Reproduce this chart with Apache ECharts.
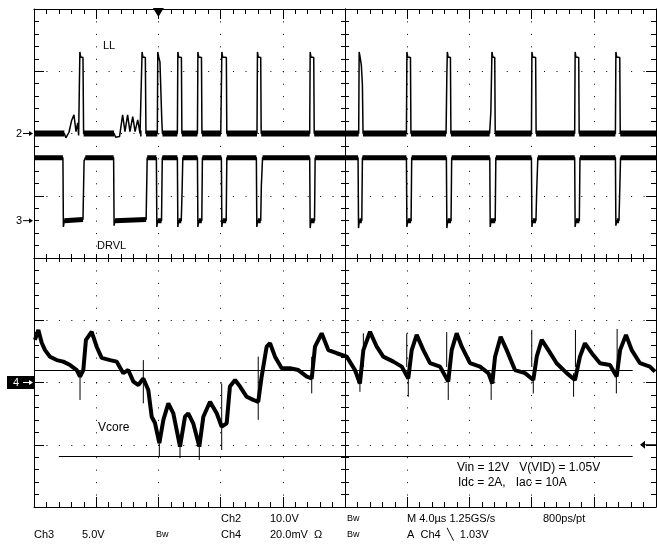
<!DOCTYPE html>
<html>
<head>
<meta charset="utf-8">
<script src="https://cdn.jsdelivr.net/npm/echarts@6/dist/echarts.min.js"></script>
<style>
  html, body { margin: 0; padding: 0; background: #fff; }
  #chart { width: 657px; height: 550px; }
</style>
</head>
<body>
<div id="chart"></div>
<script>
// time in us (M 4.0us/div), Ch2 LL in V, Ch3 DRVL in V, Ch4 Vcore in mV from its marker
const llTrace = [
  [0, 0], [1.95, 0], [2.05, -0.7], [2.25, 0.2], [2.42, 2.1], [2.57, 3.0], [2.70, 0.3], [2.81, 1.7], [2.87, -0.3], [2.92, 0],
  [2.95, 13.1], [3.0, 12.3], [3.15, 12.2], [3.19, 0],
  [5.15, 0], [5.25, -0.6], [5.5, -0.5], [5.7, 3.0], [5.85, 0.3], [6.02, 3.0], [6.17, 0.3], [6.35, 2.7], [6.5, 0.3], [6.67, 2.2], [6.82, 0],
  [6.92, 0], [6.95, 13.1], [7.0, 12.3], [7.16, 12.2], [7.2, 0],
  [7.93, 0], [7.96, 13.1], [8.02, 12.3], [8.10, 11.5], [8.22, 2], [8.26, 0],
  [9.22, 0], [9.25, 13.1], [9.30, 12.3], [9.48, 12.2], [9.51, 0],
  [10.51, 0], [10.54, 13.1], [10.59, 12.3], [10.77, 12.2], [10.80, 0],
  [12.01, 0], [12.08, 13.1], [12.13, 12.3], [12.37, 12.2], [12.40, 0],
  [14.34, 0], [14.37, 13.1], [14.42, 12.3], [14.58, 12.2], [14.61, 0],
  [17.73, 0], [17.76, 13.1], [17.81, 12.3], [17.99, 12.2], [18.02, 0],
  [20.88, 0], [20.91, 13.1], [20.97, 12.3], [21.05, 11], [21.12, 7.8], [21.16, 0],
  [23.95, 0], [23.98, 13.1], [24.03, 12.3], [24.21, 12.2], [24.24, 0],
  [26.50, 0], [26.55, 9.5], [26.58, 13.1], [26.63, 12.3], [26.78, 12.2], [26.81, 0],
  [29.30, 0], [29.38, 3.5], [29.45, 13.1], [29.50, 12.3], [29.63, 12.2], [29.66, 0],
  [31.99, 0], [32.02, 13.1], [32.07, 12.3], [32.26, 12.2], [32.29, 0],
  [34.77, 0], [34.80, 13.1], [34.85, 12.3], [35.03, 12.2], [35.06, 0],
  [37.39, 0], [37.42, 13.1], [37.47, 12.3], [37.67, 12.2], [37.70, 0],
  [40, 0]
];

const drvlTrace = [
  [0, 5.06], [1.86, 5.06], [1.89, -0.5], [1.95, 0], [3.15, 0.1], [3.22, 4.8], [3.30, 5.06],
  [5.12, 5.06], [5.15, -0.4], [5.20, 0], [7.21, 0.1], [7.28, 5.06],
  [7.87, 5.06], [7.90, -0.5], [7.95, 0], [8.20, 0], [8.25, 5.06],
  [9.22, 5.06], [9.25, -0.5], [9.30, 0], [9.47, 0], [9.52, 2.2], [9.57, 5.06],
  [10.51, 5.06], [10.54, -0.5], [10.59, 0], [10.79, 0], [10.83, 5.06],
  [12.05, 5.06], [12.08, -0.5], [12.13, 0], [12.36, 0], [12.40, 5.06],
  [14.30, 5.06], [14.33, -0.5], [14.38, 0], [14.58, 0], [14.62, 2.8], [14.70, 5.06],
  [17.73, 5.06], [17.76, -0.6], [17.81, 0], [18.04, 0], [18.08, 5.06],
  [20.84, 5.06], [20.87, -0.6], [20.92, 0], [21.08, 0], [21.12, 5.06],
  [23.95, 5.06], [23.98, -0.5], [24.03, 0], [24.25, 0], [24.29, 5.06],
  [26.52, 5.06], [26.55, -0.6], [26.60, 0], [26.82, 0], [26.86, 5.06],
  [29.31, 5.06], [29.34, -0.5], [29.39, 0], [29.66, 0], [29.70, 5.06],
  [31.99, 5.06], [32.02, -0.5], [32.07, 0], [32.28, 0], [32.33, 2.5], [32.40, 5.06],
  [34.77, 5.06], [34.80, -0.5], [34.85, 0], [35.07, 0], [35.11, 5.06],
  [37.39, 5.06], [37.42, -0.4], [37.47, 0], [37.62, 0], [37.67, 2.5], [37.72, 5.06],
  [40, 5.06]
];

const vcoreTrace = [
  [0.06, 13.7], [0.28, 16.9], [0.50, 12.7], [0.71, 10.4], [1.03, 8.3], [1.46, 7.2], [1.88, 6.7], [2.32, 5.6],
  [2.75, 4.0], [2.96, 1.9], [3.17, 4.0], [3.34, 13.7], [3.71, 16.3], [4.03, 11.5], [4.35, 7.9], [4.89, 7.2],
  [5.32, 6.7], [5.74, 3.0], [6.06, 4.0], [6.39, 0.3], [6.71, -0.8], [7.03, 1.3], [7.35, -2.4], [7.57, -11.0],
  [7.78, -13.0], [8.06, -19.5], [8.32, -12.0], [8.64, -6.7], [8.96, -9.9], [9.39, -20.6], [9.71, -11.0],
  [9.92, -9.9], [10.24, -13.1], [10.63, -20.6], [10.89, -11.0], [11.32, -6.2], [11.75, -9.9], [12.07, -14.2],
  [12.39, -13.1], [12.60, -1.3], [12.93, 0.8], [13.25, -1.3], [13.68, -4.6], [14.10, -5.6], [14.42, -6.2],
  [14.64, 1.9], [14.96, 11.5], [15.18, 12.6], [15.50, 8.3], [15.93, 4.6], [16.46, 4.6], [17.00, 4.0],
  [17.54, 1.9], [17.86, 1.3], [18.07, 11.5], [18.50, 15.8], [18.93, 10.4], [19.47, 9.4], [20.11, 8.3],
  [20.64, 4.0], [20.96, -0.3], [21.18, 10.4], [21.61, 16.3], [22.04, 11.5], [22.46, 8.3], [23.11, 6.7],
  [23.65, 5.1], [24.07, 1.3], [24.29, 10.4], [24.61, 15.3], [25.04, 10.4], [25.47, 6.2], [26.11, 5.1],
  [26.64, 0.3], [26.86, 10.4], [27.18, 15.8], [27.51, 11.5], [28.04, 6.2], [28.68, 5.1], [29.22, 3.0],
  [29.47, -0.3], [29.65, 8.3], [30.01, 14.7], [30.40, 10.4], [30.93, 4.0], [31.58, 3.0], [32.11, 0.8],
  [32.33, 8.3], [32.65, 13.7], [33.08, 10.4], [33.61, 6.2], [34.26, 3.0], [34.79, 0.8], [35.11, 8.3],
  [35.43, 12.6], [35.87, 9.4], [36.40, 6.2], [37.04, 5.6], [37.47, 1.9], [37.69, 10.4], [38.07, 15.3],
  [38.44, 10.4], [38.97, 6.2], [39.61, 5.1], [39.93, 3.5]
];

// switching spikes on Vcore: [t, low, high]
const vcoreSpikes = [
  [2.96, -5.6, 4.0], [7.03, -6.7, 7.2], [8.06, -23.8, -19.5], [9.39, -24.3, -18], [10.63, -24.9, -18],
  [12.07, -21.7, -0.3], [14.42, -12.0, 8.3], [17.86, -3.5, 8.3], [20.96, -3.0, 4], [21.18, 5, 15.8],
  [23.97, 5, 15.8], [24.07, -4.6, 3], [26.54, 5, 16.2], [26.64, -5.6, 3], [29.40, -5.6, 3],
  [32.01, 5, 16.9], [32.11, -3.5, 3], [34.70, -4.6, 3], [34.82, 5, 16.9], [37.45, -3.5, 3], [37.50, 5, 17.2]
];

// horizontal cursors on Ch4 (mV) and the time span they cover
const cursorLevels = [4.0, -23.8];
const cursorFrom = [0, 1.6];
const cursorTo = [38.5, 38.5];

const trigTime = 8;      // trigger position, us
const trigLevel = -20;   // trigger level on Ch4, mV

// 8 vertical divisions per channel, zero on the channel marker
const ch2Range = [-60, 20];
const ch3Range = [-23, 17];
const ch4Range = [-40, 120];

const black = '#000';
const font = '"Liberation Sans", Arial, sans-serif';

function gratAxis(extra) {
  return Object.assign({
    type: 'value',
    axisLabel: { show: false },
    axisLine: { onZero: false, lineStyle: { color: black, width: 1 } },
    axisTick: { inside: true, length: 10, lineStyle: { color: black } },
    minorTick: { show: true, splitNumber: 5, length: 5, lineStyle: { color: black } },
    splitLine: { show: false }
  }, extra);
}

// thick band on the flat levels (noise), thin line elsewhere
function band(points, level) {
  const out = [];
  let last = null;
  points.forEach(p => {
    const c = level(p[1]);
    if (c !== last && out.length) out.push([p[0], '-']);
    if (c) out.push(p);
    last = c;
  });
  return out;
}

const chart = echarts.init(document.getElementById('chart'));

const xBase = { min: 0, max: 40, interval: 4 };
const yBase = { min: 0, max: 8, interval: 1 };

chart.setOption({
  animation: false,
  backgroundColor: '#fff',
  grid: { left: 34, right: 1, top: 9, bottom: 43 },
  xAxis: [
    gratAxis(Object.assign({ position: 'bottom',
      splitLine: { show: true, lineStyle: { color: black, width: 1, type: [1, 11.45] } } }, xBase)),
    gratAxis(Object.assign({ position: 'top' }, xBase)),
    gratAxis(Object.assign({ position: 'bottom', offset: -249,
      axisTick: { inside: true, length: 4, lineStyle: { color: black } },
      minorTick: { show: true, splitNumber: 5, length: 4, lineStyle: { color: black } } }, xBase)),
    gratAxis(Object.assign({ position: 'bottom', offset: -249,
      axisTick: { inside: false, length: 4, lineStyle: { color: black } },
      minorTick: { show: true, splitNumber: 5, length: 4, lineStyle: { color: black } } }, xBase))
  ],
  yAxis: [
    gratAxis(Object.assign({ position: 'left',
      splitLine: { show: true, lineStyle: { color: black, width: 1, type: [1, 11.44] } } }, yBase)),
    gratAxis(Object.assign({ position: 'right' }, yBase)),
    gratAxis(Object.assign({ position: 'left', offset: -311,
      axisTick: { inside: true, length: 4, lineStyle: { color: black } },
      minorTick: { show: true, splitNumber: 5, length: 4, lineStyle: { color: black } } }, yBase)),
    gratAxis(Object.assign({ position: 'left', offset: -311,
      axisTick: { inside: false, length: 4, lineStyle: { color: black } },
      minorTick: { show: true, splitNumber: 5, length: 4, lineStyle: { color: black } } }, yBase)),
    { type: 'value', show: false, min: ch2Range[0], max: ch2Range[1] },
    { type: 'value', show: false, min: ch3Range[0], max: ch3Range[1] },
    { type: 'value', show: false, min: ch4Range[0], max: ch4Range[1] }
  ],
  series: [
    {
      name: 'LL', type: 'line', xAxisIndex: 0, yAxisIndex: 4, data: llTrace,
      showSymbol: false, silent: true, lineStyle: { color: black, width: 1.5 }
    },
    {
      name: 'LL band', type: 'line', xAxisIndex: 0, yAxisIndex: 4,
      data: band(llTrace, v => Math.abs(v) < 0.05 ? 'base' : null),
      showSymbol: false, silent: true, connectNulls: false, lineStyle: { color: black, width: 6 }
    },
    {
      name: 'DRVL', type: 'line', xAxisIndex: 0, yAxisIndex: 5, data: drvlTrace,
      showSymbol: false, silent: true, lineStyle: { color: black, width: 1.5 }
    },
    {
      name: 'DRVL band', type: 'line', xAxisIndex: 0, yAxisIndex: 5,
      data: band(drvlTrace, v => v > 4.9 ? 'hi' : (Math.abs(v) < 0.15 ? 'lo' : null)),
      showSymbol: false, silent: true, connectNulls: false, lineStyle: { color: black, width: 5 }
    },
    {
      name: 'Vcore', type: 'line', xAxisIndex: 0, yAxisIndex: 6, data: vcoreTrace,
      showSymbol: false, silent: true, lineStyle: { color: black, width: 4 },
      markLine: {
        silent: true, symbol: 'none', label: { show: false },
        lineStyle: { color: black, width: 1, type: 'solid' },
        data: cursorLevels.map((lv, i) => [{ coord: [cursorFrom[i], lv] }, { coord: [cursorTo[i], lv] }])
      }
    },
    {
      name: 'Vcore spikes', type: 'custom', xAxisIndex: 0, yAxisIndex: 6, data: vcoreSpikes,
      silent: true, encode: { x: 0, y: [1, 2] },
      renderItem: function (params, api) {
        const a = api.coord([api.value(0), api.value(1)]);
        const b = api.coord([api.value(0), api.value(2)]);
        return { type: 'line', shape: { x1: a[0], y1: a[1], x2: b[0], y2: b[1] },
          style: { stroke: black, lineWidth: 1 } };
      }
    }
  ]
});

// markers tied to the channel scales
const y2 = chart.convertToPixel({ yAxisIndex: 4 }, 0);
const y3 = chart.convertToPixel({ yAxisIndex: 5 }, 0);
const y4 = chart.convertToPixel({ yAxisIndex: 6 }, 0);
const yTrig = chart.convertToPixel({ yAxisIndex: 6 }, trigLevel);
const xTrig = chart.convertToPixel({ xAxisIndex: 0 }, trigTime);

function txt(x, y, s, size, fill) {
  return { type: 'text', x: x, y: y, z: 10, silent: true,
    style: { text: s, fill: fill || black, font: size + 'px ' + font, verticalAlign: 'middle' } };
}
function arrowRight(y, color) {
  return [
    { type: 'line', z: 11, silent: true, shape: { x1: 23, y1: y, x2: 30, y2: y }, style: { stroke: color, lineWidth: 1 } },
    { type: 'polygon', z: 11, silent: true, shape: { points: [[33, y], [29, y - 2.5], [29, y + 2.5]] }, style: { fill: color } }
  ];
}

const g = [];
g.push(txt(16, y2, '2', 11));
g.push(...arrowRight(y2, black));
g.push(txt(16, y3, '3', 11));
g.push(...arrowRight(y3, black));
g.push({ type: 'rect', z: 10, silent: true, shape: { x: 7, y: y4 - 6.5, width: 27, height: 13 }, style: { fill: black } });
g.push(Object.assign(txt(13, y4, '4', 11, '#fff'), { z: 11 }));
g.push(...arrowRight(y4, '#fff'));
g.push({ type: 'polygon', z: 11, silent: true, shape: { points: [[xTrig - 5.5, 8], [xTrig + 5.5, 8], [xTrig, 17]] }, style: { fill: black } });
g.push({ type: 'polygon', z: 11, silent: true, shape: { points: [[640, yTrig], [645, yTrig - 4], [645, yTrig + 4]] }, style: { fill: black } });
g.push({ type: 'line', z: 11, silent: true, shape: { x1: 644, y1: yTrig, x2: 656, y2: yTrig }, style: { stroke: black, lineWidth: 1 } });

// channel names and settings readout
g.push(txt(103, 45.5, 'LL', 11));
g.push(txt(97, 245.5, 'DRVL', 11));
g.push(txt(98, 428, 'Vcore', 12));
g.push(txt(457, 467.5, 'Vin = 12V   V(VID) = 1.05V', 12));
g.push(txt(458, 482.5, 'Idc = 2A,   Iac = 10A', 12));

g.push(txt(221, 519, 'Ch2', 11));
g.push(txt(270, 519, '10.0V', 11));
g.push(txt(347, 519, 'Bw', 9));
g.push(txt(407, 519, 'M 4.0\u00b5s 1.25GS/s', 11));
g.push(txt(543, 519, '800ps/pt', 11));
g.push(txt(34, 535, 'Ch3', 11));
g.push(txt(82, 535, '5.0V', 11));
g.push(txt(156, 535, 'Bw', 9));
g.push(txt(221, 535, 'Ch4', 11));
g.push(txt(270, 535, '20.0mV  \u03a9', 11));
g.push(txt(347, 535, 'Bw', 9));
g.push(txt(407, 535, 'A  Ch4  \u2572  1.03V', 11));

chart.setOption({ graphic: g });
</script>
</body>
</html>
